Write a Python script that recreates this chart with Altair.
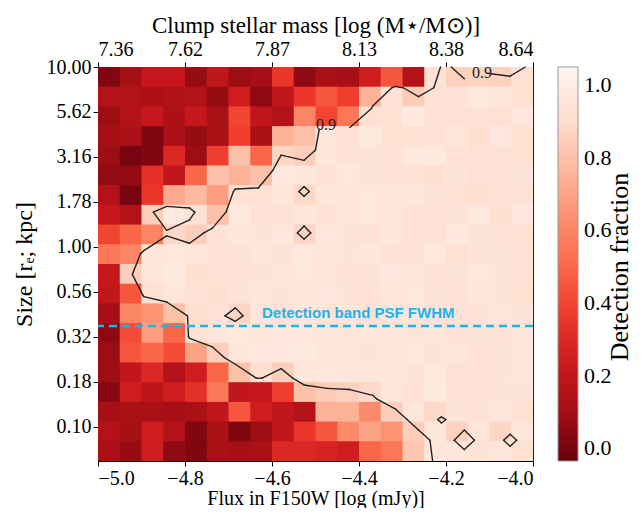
import altair as alt
import numpy as np
import pandas as pd

# ---------------- grid ----------------
FLUX_EDGES = [float(v) for v in np.linspace(-5.0, -4.0, 21)]      # log mJy, 20 bins
LOGR_TOP, LOGR_BOTTOM = 1.0, -1.19                                # log10(r_e / kpc)
LOGR_EDGES = [float(v) for v in np.linspace(LOGR_TOP, LOGR_BOTTOM, 21)]

# detection fraction, row 0 = largest size (top), column 0 = faintest flux
DETECTION = [
    [0.02, 0.10, 0.22, 0.22, 0.07, 0.20, 0.08, 0.10, 0.35, 0.05, 0.12, 0.10, 0.25, 0.45, 0.15, 0.93, 0.86, 0.87, 0.86, 0.92],
    [0.15, 0.15, 0.13, 0.14, 0.15, 0.07, 0.25, 0.05, 0.20, 0.35, 0.45, 0.38, 0.75, 0.93, 0.84, 0.93, 0.93, 0.97, 0.95, 0.92],
    [0.08, 0.15, 0.22, 0.13, 0.22, 0.12, 0.40, 0.20, 0.15, 0.60, 0.40, 0.55, 0.92, 0.92, 0.98, 0.93, 0.93, 0.93, 0.92, 0.96],
    [0.10, 0.13, 0.02, 0.12, 0.07, 0.12, 0.38, 0.12, 0.75, 0.80, 0.95, 0.93, 0.97, 0.92, 0.92, 0.93, 0.95, 0.91, 0.96, 0.92],
    [0.08, 0.00, 0.02, 0.30, 0.08, 0.38, 0.80, 0.50, 0.88, 0.85, 0.95, 0.93, 0.94, 0.93, 0.96, 0.97, 0.93, 0.92, 0.93, 0.92],
    [0.06, 0.06, 0.33, 0.20, 0.50, 0.80, 0.75, 0.80, 0.96, 0.95, 0.93, 0.96, 0.94, 0.93, 0.93, 0.91, 0.94, 0.92, 0.93, 0.94],
    [0.15, 0.00, 0.35, 0.72, 0.78, 0.68, 0.92, 0.92, 0.95, 0.885, 0.95, 0.95, 0.96, 0.95, 0.95, 0.94, 0.92, 0.91, 0.93, 0.93],
    [0.22, 0.15, 0.85, 0.97, 0.93, 0.80, 0.97, 0.93, 0.93, 0.95, 0.93, 0.95, 0.96, 0.95, 0.93, 0.93, 0.94, 0.96, 0.91, 0.96],
    [0.40, 0.50, 0.60, 0.89, 0.85, 0.93, 0.95, 0.94, 0.96, 0.875, 0.96, 0.94, 0.93, 0.95, 0.93, 0.93, 0.96, 0.94, 0.93, 0.92],
    [0.55, 0.60, 0.95, 0.96, 0.95, 0.93, 0.93, 0.95, 0.94, 0.96, 0.95, 0.94, 0.95, 0.93, 0.93, 0.96, 0.92, 0.94, 0.94, 0.93],
    [0.22, 0.85, 0.95, 0.97, 0.91, 0.93, 0.93, 0.94, 0.95, 0.96, 0.95, 0.93, 0.94, 0.96, 0.95, 0.93, 0.94, 0.96, 0.94, 0.93],
    [0.20, 0.45, 0.92, 0.95, 0.93, 0.91, 0.94, 0.95, 0.94, 0.95, 0.96, 0.94, 0.93, 0.95, 0.96, 0.94, 0.93, 0.95, 0.94, 0.92],
    [0.10, 0.60, 0.65, 0.80, 0.91, 0.93, 0.875, 0.95, 0.93, 0.95, 0.94, 0.95, 0.93, 0.94, 0.95, 0.93, 0.94, 0.93, 0.95, 0.94],
    [0.05, 0.42, 0.68, 0.50, 0.92, 0.95, 0.97, 0.95, 0.96, 0.96, 0.95, 0.94, 0.96, 0.95, 0.94, 0.95, 0.93, 0.94, 0.93, 0.95],
    [0.08, 0.45, 0.50, 0.42, 0.70, 0.85, 0.95, 0.96, 0.96, 0.97, 0.95, 0.95, 0.94, 0.95, 0.96, 0.94, 0.95, 0.93, 0.94, 0.95],
    [0.08, 0.20, 0.30, 0.15, 0.25, 0.50, 0.80, 0.91, 0.85, 0.95, 0.96, 0.95, 0.95, 0.95, 0.94, 0.96, 0.93, 0.93, 0.94, 0.95],
    [0.03, 0.25, 0.18, 0.25, 0.33, 0.55, 0.20, 0.22, 0.38, 0.80, 0.84, 0.86, 0.89, 0.95, 0.93, 0.97, 0.93, 0.93, 0.94, 0.94],
    [0.10, 0.12, 0.12, 0.10, 0.12, 0.20, 0.45, 0.25, 0.20, 0.15, 0.75, 0.75, 0.62, 0.85, 0.95, 0.89, 0.94, 0.93, 0.95, 0.92],
    [0.15, 0.10, 0.25, 0.15, 0.02, 0.12, 0.02, 0.08, 0.20, 0.35, 0.45, 0.62, 0.70, 0.65, 0.85, 0.95, 0.86, 0.95, 0.88, 0.95],
    [0.12, 0.07, 0.25, 0.05, 0.02, 0.12, 0.10, 0.12, 0.30, 0.30, 0.28, 0.25, 0.50, 0.55, 0.82, 0.95, 0.95, 0.93, 0.95, 0.92],
]

X_TICKS = [-5.0, -4.8, -4.6, -4.4, -4.2, -4.0]
MASS_LABELS = ['7.36', '7.62', '7.87', '8.13', '8.38', '8.64']
Y_TICKS = [1.0, 0.75, 0.5, 0.25, 0.0, -0.25, -0.5, -0.75, -1.0]
CBAR_TICKS = [0.0, 0.2, 0.4, 0.6, 0.8, 1.0]
CONTOUR_LEVEL = 0.9
CONTOUR_LABEL_X = [-4.476, -4.117]
CONTOUR_LABEL_Y = [0.678, 0.967]
PSF_LOGR = [-0.44]
PSF_TEXT_X = [-4.623]
PSF_TEXT_Y = [-0.367]
VMIN, VMAX = -0.035, 1.05
REDS = ['#fff5f0', '#fee0d2', '#fcbba1', '#fc9272', '#fb6a4a',
        '#ef3b2c', '#cb181d', '#a50f15', '#67000d']

SERIF = 'Liberation Serif'
BLUE = '#1cb4e8'

# ---------------- heatmap table ----------------
# each cell overlaps its right/lower neighbour by a hair to avoid anti-alias seams
OVX = 0.002
OVY = 0.004
rows = []
for j, row in enumerate(DETECTION):
    for i, v in enumerate(row):
        rows.append(dict(x0=FLUX_EDGES[i], x1=FLUX_EDGES[i + 1] + OVX,
                         y0=LOGR_EDGES[j], y1=LOGR_EDGES[j + 1] - OVY, frac=v))
heat_df = pd.DataFrame(rows)

# ---------------- contour (marching squares, grid spans the extent) --------
Z = np.array(DETECTION)
ny, nx = Z.shape
gx = np.linspace(FLUX_EDGES[0], FLUX_EDGES[-1], nx)
gy = np.linspace(LOGR_TOP, LOGR_BOTTOM, ny)


def march(Z, xs, ys, level):
    segs = []
    edges = [(0, 1), (1, 2), (2, 3), (3, 0)]
    for j in range(Z.shape[0] - 1):
        for i in range(Z.shape[1] - 1):
            v = [Z[j, i], Z[j, i + 1], Z[j + 1, i + 1], Z[j + 1, i]]
            p = [(xs[i], ys[j]), (xs[i + 1], ys[j]), (xs[i + 1], ys[j + 1]), (xs[i], ys[j + 1])]
            up = [val >= level for val in v]
            cr = {}
            for e, (a, b) in enumerate(edges):
                if up[a] != up[b]:
                    t = (level - v[a]) / (v[b] - v[a])
                    cr[e] = (p[a][0] + t * (p[b][0] - p[a][0]), p[a][1] + t * (p[b][1] - p[a][1]))
            if len(cr) == 2:
                e1, e2 = list(cr.keys())
                segs.append((cr[e1], cr[e2]))
            elif len(cr) == 4:
                centre = sum(v) / 4.0
                if up[0] == (centre >= level):
                    pairs = [(0, 1), (2, 3)]
                else:
                    pairs = [(3, 0), (1, 2)]
                for e1, e2 in pairs:
                    segs.append((cr[e1], cr[e2]))
    return segs


segs = march(Z, gx, gy, CONTOUR_LEVEL)
seg_rows = []
for (x1, y1), (x2, y2) in segs:
    mx, my = (x1 + x2) / 2, (y1 + y2) / 2
    hidden = any(abs(mx - lx) < 0.033 and abs(my - ly) < 0.045
                 for lx, ly in zip(CONTOUR_LABEL_X, CONTOUR_LABEL_Y))
    if not hidden:
        seg_rows.append(dict(x=float(x1), y=float(y1), x2=float(x2), y2=float(y2)))
seg_df = pd.DataFrame(seg_rows)

# ---------------- scales & guides ----------------
xscale = alt.Scale(domain=[FLUX_EDGES[0], FLUX_EDGES[-1]], nice=False, zero=False)
yscale = alt.Scale(domain=[LOGR_BOTTOM, LOGR_TOP], nice=False, zero=False)
cscale = alt.Scale(domain=[float(v) for v in np.linspace(VMIN, VMAX, 9)],
                   range=REDS[::-1], interpolate='rgb')

bottom_axis = alt.Axis(orient='bottom', values=X_TICKS, format='.1f',
                       title='Flux in F150W [log (mJy)]', labelPadding=2,
                       titlePadding=0, titleFontSize=20)
top_axis = alt.Axis(orient='top', values=X_TICKS,
                    labelExpr=f"{MASS_LABELS}[indexof({X_TICKS}, datum.value)]",
                    title='Clump stellar mass [log (M⋆/M⊙)]', labelPadding=3,
                    titlePadding=2, titleFontSize=23)
left_axis = alt.Axis(orient='left', values=Y_TICKS,
                     labelExpr="format(pow(10, datum.value), '.2f')",
                     title='Size [rₑ; kpc]', titlePadding=10, titleFontSize=24)

legend = alt.Legend(type='gradient', orient='none', legendX=460, legendY=0,
                    direction='vertical', gradientLength=394, gradientThickness=20,
                    title=None, values=CBAR_TICKS, format='.1f', labelFont=SERIF,
                    labelFontSize=22, labelColor='black', labelOffset=6,
                    gradientStrokeColor='#999999', gradientStrokeWidth=1)

heat = alt.Chart(heat_df).mark_rect(strokeWidth=0, clip=True).encode(
    x=alt.X('x0:Q', scale=xscale, axis=bottom_axis),
    x2='x1:Q',
    y=alt.Y('y0:Q', scale=yscale, axis=left_axis),
    y2='y1:Q',
    color=alt.Color('frac:Q', scale=cscale, legend=legend),
)

contour = alt.Chart(seg_df).mark_rule(color='#222222', strokeWidth=1.4, strokeCap='round').encode(
    x=alt.X('x:Q', scale=xscale, axis=top_axis),
    x2='x2:Q',
    y=alt.Y('y:Q', scale=yscale),
    y2='y2:Q',
)

clabels = alt.Chart(pd.DataFrame({'x': CONTOUR_LABEL_X, 'y': CONTOUR_LABEL_Y,
                                  't': [str(CONTOUR_LEVEL)] * 2})).mark_text(
    font=SERIF, fontSize=16, color='#222222', baseline='middle', align='center').encode(
    x=alt.X('x:Q', scale=xscale, axis=None),
    y=alt.Y('y:Q', scale=yscale),
    text='t:N',
)

psf = alt.Chart(pd.DataFrame({'y': PSF_LOGR})).mark_rule(
    color=BLUE, strokeDash=[8, 5], strokeWidth=2.5).encode(
    y=alt.Y('y:Q', scale=yscale),
)

psf_text = alt.Chart(pd.DataFrame({'x': PSF_TEXT_X, 'y': PSF_TEXT_Y,
                                   't': ['Detection band PSF FWHM']})).mark_text(
    font='Liberation Sans', fontWeight='bold', fontSize=15, color=BLUE,
    align='left', baseline='middle').encode(
    x=alt.X('x:Q', scale=xscale, axis=None),
    y=alt.Y('y:Q', scale=yscale),
    text='t:N',
)

cbar_title = alt.Chart(pd.DataFrame({'t': ['Detection fraction']})).mark_text(
    font=SERIF, fontSize=26, color='black', angle=270, align='center',
    baseline='alphabetic').encode(
    x=alt.value(530), y=alt.value(200), text='t:N')

chart = alt.layer(heat, contour, psf, psf_text, clabels, cbar_title).resolve_axis(
    x='independent'
).properties(
    width=435, height=394,
    autosize=alt.AutoSizeParams(type='none'),
    padding={'left': 90, 'top': 59, 'right': 101, 'bottom': 47},
).configure_view(
    stroke='#222222', strokeWidth=1
).configure_axis(
    labelFont=SERIF, labelFontSize=20, labelColor='black',
    titleFont=SERIF, titleFontSize=24, titleFontWeight='normal', titleColor='black',
    tickSize=5, tickColor='black', tickWidth=1,
    domainColor='black', domainWidth=1, grid=False,
)

chart.save('out.html', embed_options={'renderer': 'svg', 'actions': False})
